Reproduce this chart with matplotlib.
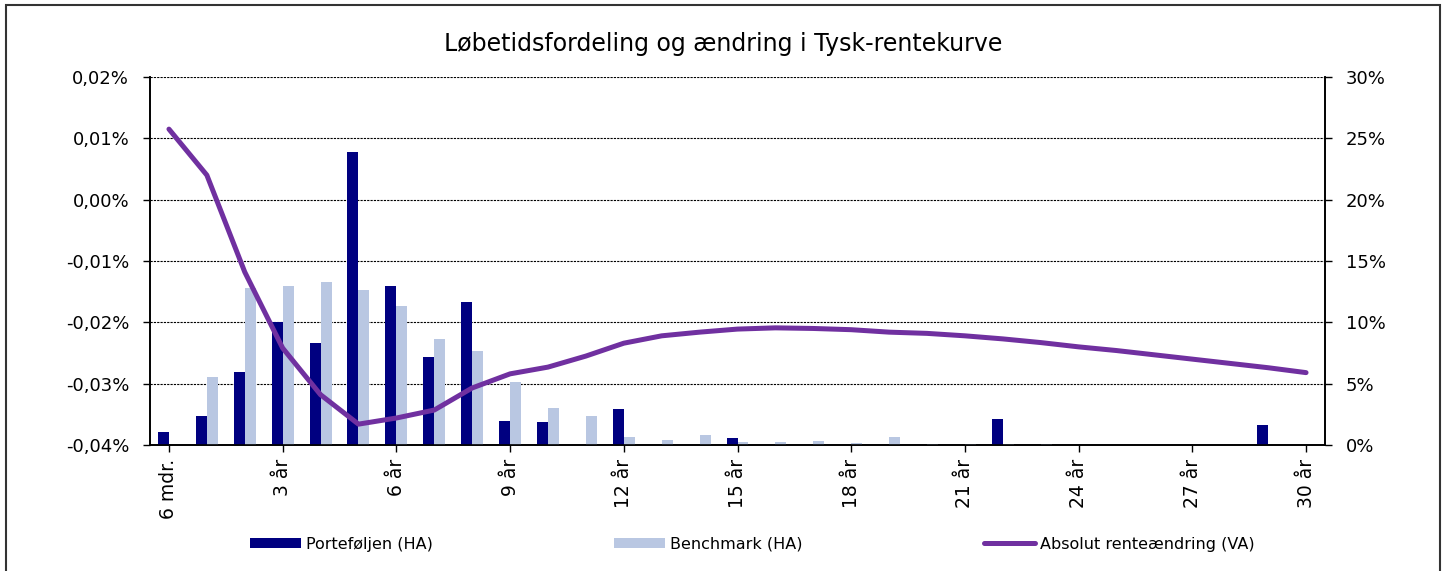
import matplotlib
matplotlib.use("Agg")
import matplotlib.pyplot as plt
from matplotlib.patches import Rectangle
import numpy as np

categories = ["6 mdr."] + [f"{i} år" for i in range(1, 31)]

portfolio = [1.08, 2.36, 5.95, 10.0, 8.29, 23.9, 12.99, 7.2, 11.66, 1.96, 1.87,
             0.0, 2.91, 0.0, 0.0, 0.54, 0.0, 0.0, 0.0, 0.0, 0.0,
             0.0, 2.1, 0.0, 0.0, 0.0, 0.0, 0.0, 0.0, 1.63, 0.0]
benchmark = [0.0, 5.52, 12.8, 12.96, 13.29, 12.64, 11.33, 8.64, 7.69, 5.16, 3.02,
             2.34, 0.68, 0.41, 0.82, 0.24, 0.24, 0.3, 0.16, 0.65, 0.1,
             0.05, 0.05, 0.05, 0.0, 0.0, 0.0, 0.03, 0.0, 0.0, 0.0]
rate_change = [0.0115, 0.0040, -0.0118, -0.0242, -0.0318, -0.0366, -0.0356, -0.0343,
               -0.0307, -0.0284, -0.0273, -0.0255, -0.0234, -0.0222, -0.0216, -0.0211,
               -0.0209, -0.0210, -0.0212, -0.0216, -0.0218, -0.0222, -0.0227, -0.0233,
               -0.0240, -0.0246, -0.0253, -0.0260, -0.0267, -0.0274, -0.0282]

left_ticks = [-0.04, -0.03, -0.02, -0.01, 0.00, 0.01, 0.02]
right_ticks = [0, 5, 10, 15, 20, 25, 30]

title = "Løbetidsfordeling og ændring i Tysk-rentekurve"

W, H = 1446, 571
fig = plt.figure(figsize=(W / 100, H / 100), dpi=100)
fig.patch.set_facecolor("white")

x0, x1, y0, y1 = 150, 1325, 77, 445
axb = fig.add_axes([x0 / W, 1 - y1 / H, (x1 - x0) / W, (y1 - y0) / H])
axl = axb.twinx()
axb.set_zorder(1)
axl.set_zorder(2)
axl.patch.set_visible(False)

n = len(categories)
x = np.arange(n)
bw = 0.29
b1 = axb.bar(x - bw / 2, portfolio, width=bw, color="#000080", label="Porteføljen (HA)", zorder=3)
b2 = axb.bar(x + bw / 2, benchmark, width=bw, color="#B9C7E2", label="Benchmark (HA)", zorder=3)
ln, = axl.plot(x, rate_change, color="#7030A0", lw=3.6, solid_capstyle="round",
               label="Absolut renteændring (VA)", zorder=4)

axb.set_xlim(-0.5, n - 0.5)
axb.set_ylim(0, 30)
axl.set_ylim(-0.04, 0.02)

# bars on right axis (HA), line on left axis (VA)
axb.yaxis.tick_right()
axb.set_yticks(right_ticks)
axb.set_yticklabels([f"{v}%" for v in right_ticks], fontsize=13)
axl.yaxis.tick_left()
axl.set_yticks(left_ticks)
axl.set_yticklabels([f"{v:.2f}%".replace(".", ",") for v in left_ticks], fontsize=13)

for a in (axb, axl):
    a.tick_params(axis="y", direction="out", length=5, width=1, colors="black", pad=10)

axb.yaxis.grid(True, linestyle=(0, (2, 1)), color="black", lw=0.8, zorder=0)
axb.set_axisbelow(True)

tick_idx = list(range(0, n, 3))
axb.set_xticks(tick_idx)
axb.set_xticklabels([categories[i] for i in tick_idx], rotation=90, fontsize=13.5)
axb.tick_params(axis="x", direction="out", length=5, width=1, pad=5)

for a in (axb, axl):
    a.spines["top"].set_visible(False)
    for s in ("left", "right", "bottom"):
        a.spines[s].set_color("black")
        a.spines[s].set_linewidth(1.2)

fig.text(0.5, 1 - 44 / H, title, ha="center", va="center", fontsize=17)

leg_y = 1 - 544 / H
for h, start in zip([b1, b2, ln], [250, 614, 984]):
    lg = fig.legend([h], [h.get_label()], loc="center left", bbox_to_anchor=(start / W, leg_y),
                    frameon=False, fontsize=11.5, handlelength=3.2, handleheight=0.6,
                    handletextpad=0.32, borderpad=0, borderaxespad=0)

fig.patches.append(Rectangle((6.5 / W, -0.01), (1440 - 6.5) / W, 1 - 5 / H + 0.01,
                             transform=fig.transFigure, fill=False, edgecolor="#333333",
                             lw=1.5))

fig.savefig("out.png", dpi=100)
